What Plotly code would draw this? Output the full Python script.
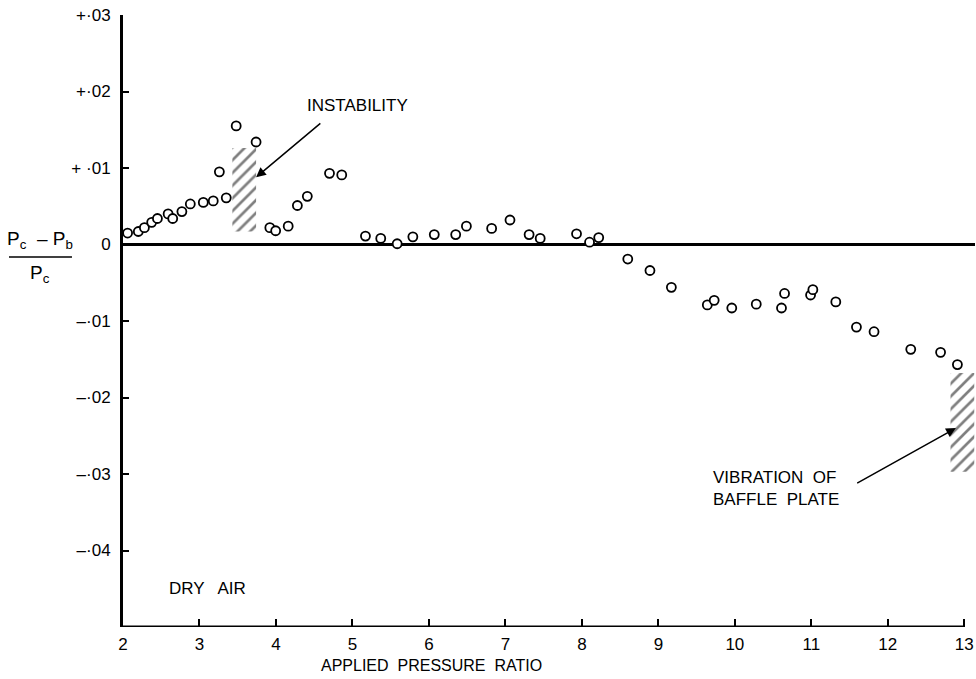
import plotly.graph_objects as go

# Data
pressure_ratio = [2.06, 2.20, 2.28, 2.375, 2.45, 2.59, 2.65, 2.77, 2.88, 3.05, 3.18, 3.35, 3.26,
                  3.48, 3.74, 3.92, 3.996, 4.16, 4.28, 4.41, 4.70, 4.86,
                  5.17, 5.37, 5.585, 5.79, 6.07, 6.35, 6.49, 6.82, 7.06, 7.31, 7.455, 7.93, 8.10, 8.22,
                  8.60, 8.89, 9.17, 9.64, 9.73, 9.96, 10.28, 10.61, 10.65, 10.99, 11.02, 11.32,
                  11.59, 11.82, 12.30, 12.69, 12.91]
pressure_diff = [0.0015, 0.0017, 0.0022, 0.0029, 0.0034, 0.0040, 0.0034, 0.0043, 0.0053, 0.0055, 0.0057, 0.0061, 0.0095,
                 0.0155, 0.0134, 0.0022, 0.0018, 0.0024, 0.0051, 0.0063, 0.0093, 0.0091,
                 0.0011, 0.0008, 0.0001, 0.0010, 0.0013, 0.0013, 0.0024, 0.0021, 0.0032, 0.0013, 0.0008, 0.0014, 0.0003, 0.0009,
                 -0.0019, -0.0034, -0.0056, -0.0079, -0.0073, -0.0083, -0.0078, -0.0083, -0.0064, -0.0066, -0.0059, -0.0075,
                 -0.0108, -0.0114, -0.0137, -0.0141, -0.0157]

x_ticks = [2, 3, 4, 5, 6, 7, 8, 9, 10, 11, 12, 13]
y_tick_vals = [0.03, 0.02, 0.01, 0, -0.01, -0.02, -0.03, -0.04]
y_tick_text = ["+·03", "+·02", "+ ·01", "0", "–·01", "–·02", "–·03", "–·04"]

instability_x = [3.43, 3.74]
instability_y = [0.0017, 0.0126]
vibration_x = [12.82, 13.13]
vibration_y = [-0.0297, -0.0168]

FONT = "Liberation Sans, Arial, sans-serif"

fig = go.Figure()

def hatch(xs, ys):
    x0, x1 = xs
    y0, y1 = ys
    return go.Scatter(
        x=[x0, x1, x1, x0, x0], y=[y0, y0, y1, y1, y0],
        mode="lines", line=dict(width=0, color="rgba(0,0,0,0)"),
        fill="toself", fillcolor="white",
        fillpattern=dict(shape="/", fgcolor="black", bgcolor="white", size=9, solidity=0.3),
        hoverinfo="skip", showlegend=False)

fig.add_trace(hatch(instability_x, instability_y))
fig.add_trace(hatch(vibration_x, vibration_y))

fig.add_trace(go.Scatter(
    x=pressure_ratio, y=pressure_diff, mode="markers",
    marker=dict(symbol="circle", size=9, color="white", line=dict(color="black", width=1.8)),
    showlegend=False, cliponaxis=False))

fig.update_xaxes(
    range=[2, 13.14], tickvals=x_ticks, ticktext=[str(t) for t in x_ticks],
    ticks="inside", ticklen=8, tickwidth=1.5, tickcolor="black", ticklabelstandoff=5,
    showline=False, showgrid=False, zeroline=False,
    tickfont=dict(family=FONT, size=17, color="black"))
fig.update_yaxes(
    range=[-0.05, 0.03], tickvals=y_tick_vals, ticktext=y_tick_text,
    ticks="inside", ticklen=6, tickwidth=1.5, tickcolor="black", ticklabelstandoff=6,
    showline=True, linewidth=3, linecolor="black",
    showgrid=False, zeroline=True, zerolinewidth=3, zerolinecolor="black",
    tickfont=dict(family=FONT, size=17, color="black"))

shapes = [
    # bottom axis line
    dict(type="line", xref="x", yref="y", x0=2, x1=13, y0=-0.05, y1=-0.05,
         line=dict(color="black", width=3)),
    # fraction bar for y label
    dict(type="line", xref="paper", yref="paper", x0=-0.1338, x1=-0.0599, y0=0.6046, y1=0.6046,
         line=dict(color="black", width=1.5)),
]

annotations = [
    dict(x=3.74, y=0.0088, ax=4.6, ay=0.0160, axref="x", ayref="y", xref="x", yref="y",
         showarrow=True, arrowhead=2, arrowsize=1.3, arrowwidth=1.5, arrowcolor="black", text=""),
    dict(text="INSTABILITY", x=5.06, y=0.0182, xref="x", yref="y", showarrow=False,
         xanchor="center", yanchor="middle",
         font=dict(family=FONT, size=17, color="black")),
    dict(x=12.89, y=-0.0240, ax=11.58, ay=-0.0313, axref="x", ayref="y", xref="x", yref="y",
         showarrow=True, arrowhead=2, arrowsize=1.3, arrowwidth=1.5, arrowcolor="black", text=""),
    dict(text="VIBRATION  OF<br>BAFFLE  PLATE", x=9.69, y=-0.0289, xref="x", yref="y",
         xanchor="left", yanchor="top", align="left", showarrow=False,
         font=dict(family=FONT, size=17, color="black")),
    dict(text="DRY   AIR", x=2.58, y=-0.0450, xref="x", yref="y", xanchor="left", yanchor="middle",
         showarrow=False, font=dict(family=FONT, size=17, color="black")),
    dict(text="APPLIED  PRESSURE  RATIO", x=6.03, y=-0.0621, xref="x", yref="paper",
         xanchor="center", yanchor="middle",
         showarrow=False, font=dict(family=FONT, size=16, color="black")),
    dict(text="P<sub>c</sub>  – P<sub>b</sub>", x=-0.0974, y=0.6324, xref="paper", yref="paper",
         xanchor="center", yanchor="middle", showarrow=False,
         font=dict(family=FONT, size=19, color="black")),
    dict(text="P<sub>c</sub>", x=-0.0974, y=0.5768, xref="paper", yref="paper",
         xanchor="center", yanchor="middle", showarrow=False,
         font=dict(family=FONT, size=19, color="black")),
]

fig.update_layout(
    width=976, height=679,
    margin=dict(l=123, r=1, t=15, b=52),
    paper_bgcolor="white", plot_bgcolor="white",
    shapes=shapes, annotations=annotations,
    font=dict(family=FONT, size=16, color="black"),
)

fig.write_html("out.html")
